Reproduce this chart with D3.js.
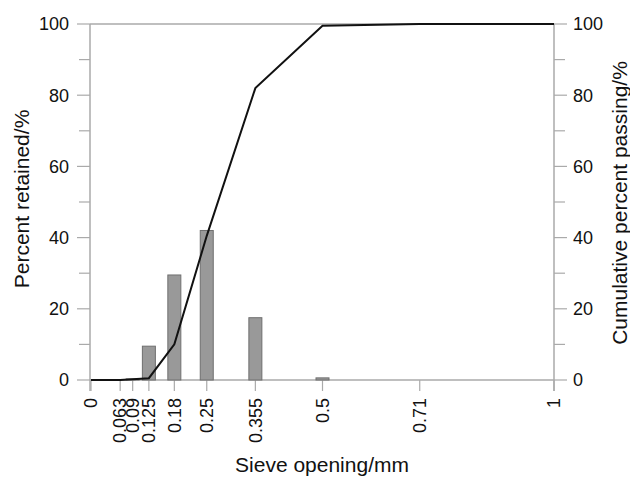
<!DOCTYPE html>
<html>
<head>
<meta charset="utf-8">
<script src="https://cdn.jsdelivr.net/npm/d3@7"></script>
<style>
  body { margin: 0; background: #fff; }
  text { font-family: "Liberation Sans", Arial, Helvetica, sans-serif; fill: #111; }
</style>
</head>
<body>
<div id="chart"></div>
<script>
// sieve openings (mm)
var sieves = [0, 0.063, 0.09, 0.125, 0.18, 0.25, 0.355, 0.5, 0.71, 1];
var tickLabels = ["0", "0.063", "0.09", "0.125", "0.18", "0.25", "0.355", "0.5", "0.71", "1"];
// percent retained on each sieve
var retained = [0, 0, 0.3, 9.5, 29.5, 42, 17.5, 0.6, 0, 0];
// cumulative percent passing
var passing = [0, 0, 0.2, 0.5, 10, 40.5, 82, 99.5, 100, 100];

function drawChart() {
    var width = 630, height = 480;
    var margin = {left: 90, right: 554, top: 24, bottom: 380};

    var svg = d3.select("#chart").append("svg")
        .attr("width", width)
        .attr("height", height);

    var x = d3.scaleLinear().domain([0, 1]).range([margin.left + 1, margin.right]);
    var y = d3.scaleLinear().domain([0, 100]).range([margin.bottom, margin.top]);

    var axisColor = "#aaa";

    // frame: top line
    svg.append("line")
        .attr("x1", margin.left).attr("x2", margin.right)
        .attr("y1", margin.top).attr("y2", margin.top)
        .attr("stroke", axisColor).attr("stroke-width", 1.5);

    // bottom axis line
    svg.append("line")
        .attr("x1", margin.left).attr("x2", margin.right)
        .attr("y1", margin.bottom).attr("y2", margin.bottom)
        .attr("stroke", axisColor).attr("stroke-width", 1.5);

    // left & right axis lines, extending below the baseline
    [margin.left, margin.right].forEach(function (px) {
        svg.append("line")
            .attr("x1", px).attr("x2", px)
            .attr("y1", margin.top).attr("y2", margin.bottom + 11)
            .attr("stroke", axisColor).attr("stroke-width", 1.5);
    });

    var major = d3.range(0, 101, 20);
    var minor = d3.range(10, 100, 20);

    // left ticks
    svg.append("g").selectAll("line")
        .data(major.concat(minor))
        .enter().append("line")
        .attr("x1", function (d) { return d % 20 === 0 ? margin.left - 13 : margin.left - 11; })
        .attr("x2", margin.left)
        .attr("y1", function (d) { return y(d); })
        .attr("y2", function (d) { return y(d); })
        .attr("stroke", axisColor).attr("stroke-width", 1.2);

    svg.append("g").selectAll("text")
        .data(major)
        .enter().append("text")
        .attr("x", margin.left - 21)
        .attr("y", function (d) { return y(d); })
        .attr("dy", "0.35em")
        .attr("text-anchor", "end")
        .style("font-size", "18px")
        .text(function (d) { return d; });

    // right ticks
    svg.append("g").selectAll("line")
        .data(major.concat(minor))
        .enter().append("line")
        .attr("x1", margin.right)
        .attr("x2", function (d) { return d % 20 === 0 ? margin.right + 13 : margin.right + 11; })
        .attr("y1", function (d) { return y(d); })
        .attr("y2", function (d) { return y(d); })
        .attr("stroke", axisColor).attr("stroke-width", 1.2);

    svg.append("g").selectAll("text")
        .data(major)
        .enter().append("text")
        .attr("x", margin.right + 19)
        .attr("y", function (d) { return y(d); })
        .attr("dy", "0.35em")
        .attr("text-anchor", "start")
        .style("font-size", "18px")
        .text(function (d) { return d; });

    // x ticks
    svg.append("g").selectAll("line")
        .data(sieves)
        .enter().append("line")
        .attr("x1", function (d) { return x(d); })
        .attr("x2", function (d) { return x(d); })
        .attr("y1", margin.bottom)
        .attr("y2", margin.bottom + 11)
        .attr("stroke", axisColor).attr("stroke-width", 1.2);

    svg.append("g").selectAll("text")
        .data(sieves)
        .enter().append("text")
        .attr("transform", function (d) { return "translate(" + x(d) + "," + (margin.bottom + 18) + ") rotate(-90)"; })
        .attr("dy", "0.35em")
        .attr("text-anchor", "end")
        .style("font-size", "18px")
        .text(function (d, i) { return tickLabels[i]; });

    // bars
    var barW = 13;
    svg.append("g").selectAll("rect")
        .data(sieves.map(function (s, i) { return {s: s, v: retained[i]}; })
            .filter(function (d) { return d.v > 0; }))
        .enter().append("rect")
        .attr("x", function (d) { return x(d.s) - barW / 2; })
        .attr("width", barW)
        .attr("y", function (d) { return y(d.v); })
        .attr("height", function (d) { return margin.bottom - y(d.v); })
        .attr("fill", "#999")
        .attr("stroke", "#6f6f6f")
        .attr("stroke-width", 1);

    // cumulative line
    var line = d3.line()
        .x(function (d) { return x(d[0]); })
        .y(function (d) { return y(d[1]); });

    svg.append("path")
        .datum(sieves.map(function (s, i) { return [s, passing[i]]; }))
        .attr("d", line)
        .attr("fill", "none")
        .attr("stroke", "#111")
        .attr("stroke-width", 2);

    // axis titles
    svg.append("text")
        .attr("x", 322)
        .attr("y", 472)
        .attr("text-anchor", "middle")
        .style("font-size", "21px")
        .text("Sieve opening/mm");

    svg.append("text")
        .attr("transform", "translate(29,199) rotate(-90)")
        .attr("text-anchor", "middle")
        .style("font-size", "21px")
        .text("Percent retained/%");

    svg.append("text")
        .attr("transform", "translate(627,203) rotate(-90)")
        .attr("text-anchor", "middle")
        .style("font-size", "21px")
        .text("Cumulative percent passing/%");
}

drawChart();
</script>
</body>
</html>
